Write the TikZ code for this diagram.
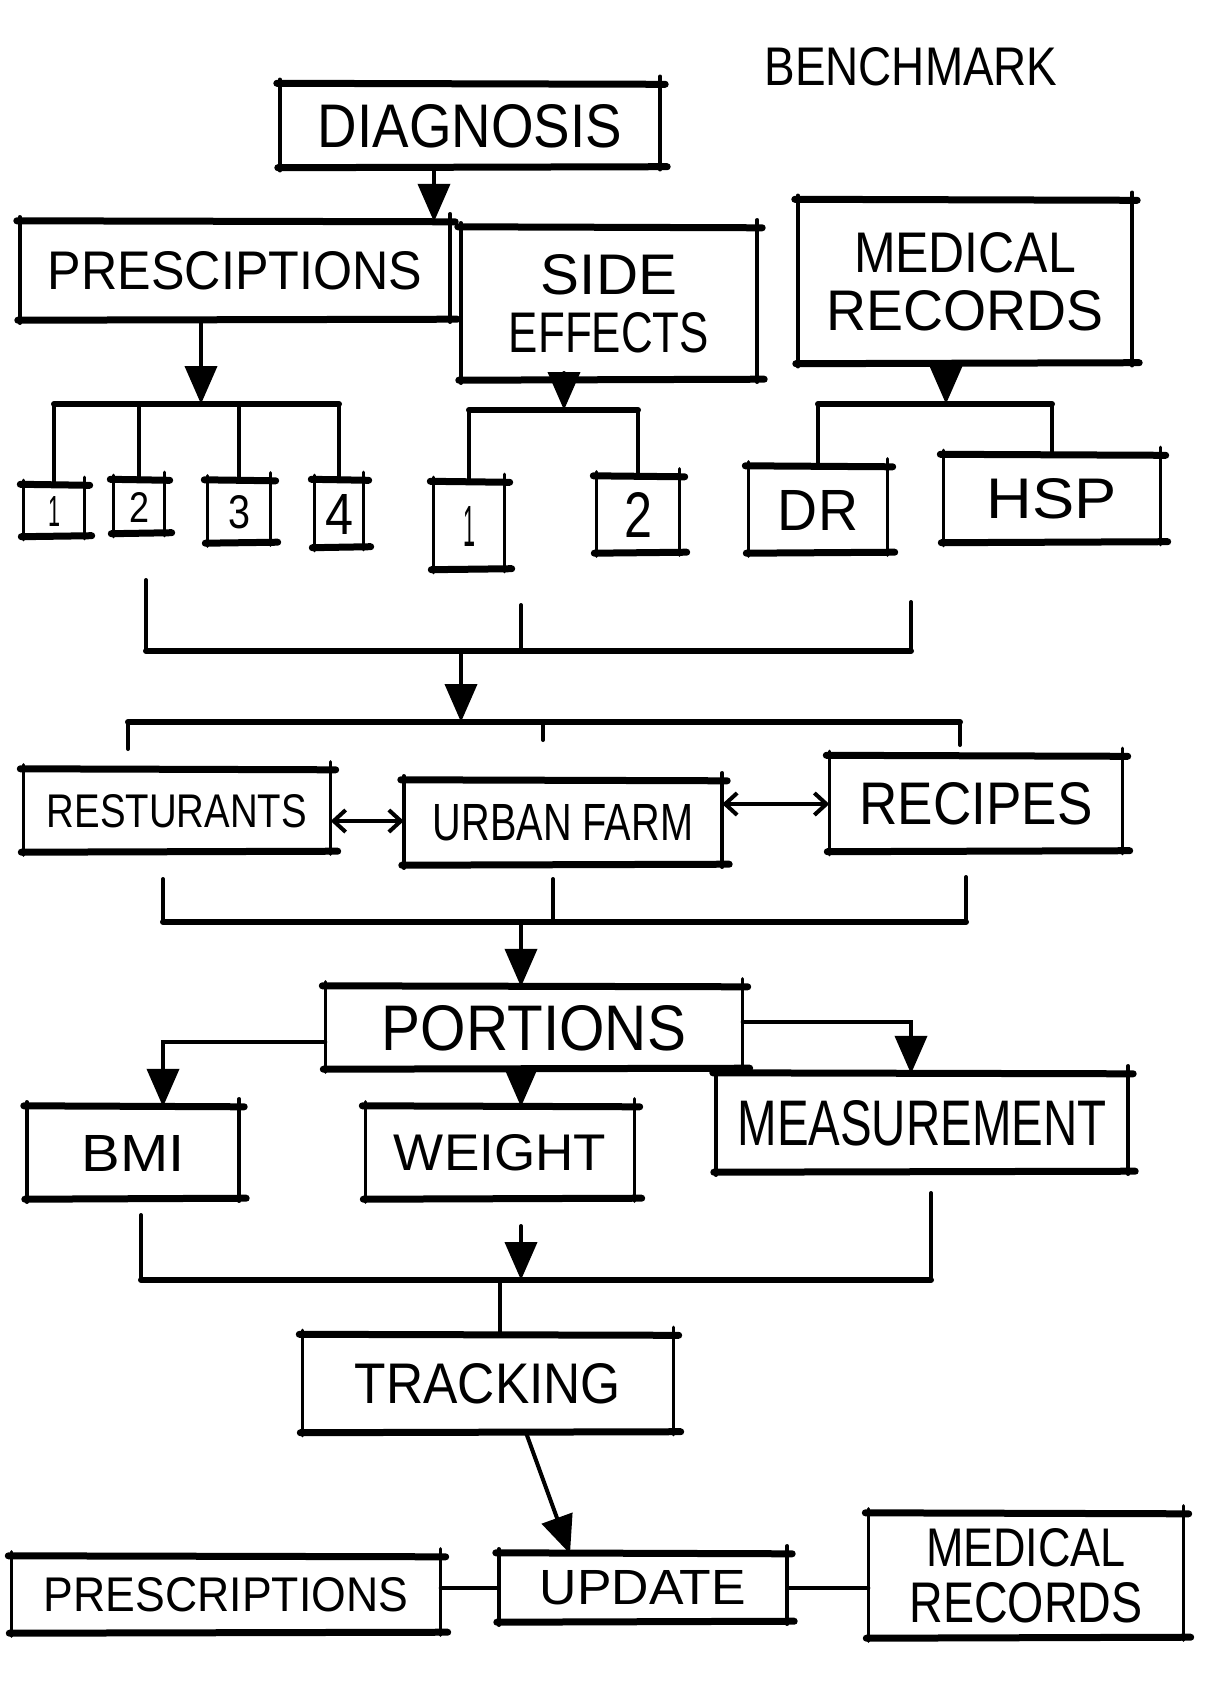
\documentclass[tikz,border=0pt]{standalone}
\usepackage{fontspec}
\setmainfont{Liberation Sans}
\usepackage{graphicx}
\usetikzlibrary{arrows.meta,calc}
\newcommand\lbl[3]{\resizebox{#1pt}{#2pt}{#3}}
\newcommand\skbox[1]{%
  \draw[line width=7pt,line cap=round] ([xshift=-3pt,yshift=1pt]#1.north west) -- ([xshift=5pt]#1.north east);
  \draw[line width=7pt,line cap=round] ([xshift=-2pt]#1.south west) -- ([xshift=7pt,yshift=1pt]#1.south east);
  \draw[line width=3.5pt,line cap=round] ([yshift=5pt]#1.north west) -- ([yshift=-3pt]#1.south west);
  \draw[line width=3.5pt,line cap=round] ([yshift=8pt]#1.north east) -- ([yshift=-2pt]#1.south east);
}
\begin{document}
\begin{tikzpicture}[x=1pt,y=-1pt,
  bx/.style={rectangle,inner sep=0pt,draw=none,align=center},
  con/.style={line width=4pt,line cap=round},
  brk/.style={line width=6pt,line cap=round},
  tip/.style={con,-{Triangle[width=32pt,length=38pt]}},
  dbl/.style={con,{Straight Barb[length=12pt,width=22pt,line width=4pt]}-{Straight Barb[length=12pt,width=22pt,line width=4pt]}},
]
\useasboundingbox (0,0) rectangle (1224,1702);
\fill[white] (0,0) rectangle (1224,1702);

% title
\node[bx] (bench) at (911,67) {\lbl{293}{38}{BENCHMARK}};

% level 1
\node[bx,minimum width=380pt,minimum height=83pt] (diag) at (470,126) {\lbl{304}{43}{DIAGNOSIS}};
\node[bx,minimum width=430pt,minimum height=98pt] (presc) at (235,271) {\lbl{374}{38}{PRESCIPTIONS}};
\node[bx,minimum width=296pt,minimum height=152pt] (side) at (609,304) {\lbl{136}{40}{SIDE}\\[16pt]\lbl{200}{40}{EFFECTS}};
\node[bx,minimum width=334pt,minimum height=163pt] (med) at (965,282) {\lbl{222}{40}{MEDICAL}\\[16pt]\lbl{277}{40}{RECORDS}};

% small boxes
\node[bx,minimum width=61pt,minimum height=51pt] (p1) at (54,511) {\lbl{12}{30}{1}};
\node[bx,minimum width=51pt,minimum height=53pt] (p2) at (139,507) {\lbl{20}{30}{2}};
\node[bx,minimum width=63pt,minimum height=62pt] (p3) at (239,512) {\lbl{22}{33}{3}};
\node[bx,minimum width=49pt,minimum height=67pt] (p4) at (339,514) {\lbl{28}{40}{4}};
\node[bx,minimum width=71pt,minimum height=87pt] (s1) at (469,526) {\lbl{12}{40}{1}};
\node[bx,minimum width=83pt,minimum height=76pt] (s2) at (638,515) {\lbl{28}{45}{2}};
\node[bx,minimum width=139pt,minimum height=86pt] (dr) at (818,510) {\lbl{80}{40}{DR}};
\node[bx,minimum width=217pt,minimum height=87pt] (hsp) at (1052,499) {\lbl{130}{40}{HSP}};

% row 2
\node[bx,minimum width=307pt,minimum height=82pt] (rest) at (177,811) {\lbl{260}{33}{RESTURANTS}};
\node[bx,minimum width=318pt,minimum height=84pt] (urban) at (563,823) {\lbl{260}{36}{URBAN FARM}};
\node[bx,minimum width=293pt,minimum height=95pt] (recip) at (976,804) {\lbl{233}{42}{RECIPES}};

% row 3
\node[bx,minimum width=417pt,minimum height=82pt] (port) at (534,1028) {\lbl{304}{45}{PORTIONS}};
\node[bx,minimum width=212pt,minimum height=92pt] (bmi) at (133,1153) {\lbl{103}{36}{BMI}};
\node[bx,minimum width=269pt,minimum height=92pt] (weight) at (500,1153) {\lbl{212}{36}{WEIGHT}};
\node[bx,minimum width=412pt,minimum height=98pt] (meas) at (922,1123) {\lbl{369}{45}{MEASUREMENT}};

% row 4
\node[bx,minimum width=371pt,minimum height=97pt] (track) at (488,1384) {\lbl{266}{40}{TRACKING}};

% row 5
\node[bx,minimum width=429pt,minimum height=76pt] (presc2) at (226,1595) {\lbl{364}{34}{PRESCRIPTIONS}};
\node[bx,minimum width=288pt,minimum height=68pt] (update) at (643,1588) {\lbl{206}{34}{UPDATE}};
\node[bx,minimum width=315pt,minimum height=124pt] (med2) at (1026,1576) {\lbl{200}{38}{MEDICAL}\\[14pt]\lbl{233}{40}{RECORDS}};

\foreach \n in {diag,presc,side,med,p1,p2,p3,p4,s1,s2,dr,hsp,rest,urban,recip,port,bmi,weight,meas,track,presc2,update,med2}{\skbox{\n}}

% diagnosis -> prescriptions
\draw[tip] ([xshift=-36pt]diag.south) -- ([xshift=199pt]presc.north);

% prescriptions bracket
\coordinate (pb) at (201,404);
\draw[tip] (pb |- presc.south) -- (pb);
\draw[brk] (p1.north |- pb) -- (p4.north |- pb);
\foreach \n in {p1,p2,p3,p4}{\draw[con] (\n.north |- pb) -- (\n.north);}

% side effects bracket
\coordinate (sb) at (564,410);
\draw[tip] (sb |- side.south) -- (sb);
\draw[brk] (s1.north |- sb) -- (s2.north |- sb);
\foreach \n in {s1,s2}{\draw[con] (\n.north |- sb) -- (\n.north);}

% medical records bracket
\coordinate (mb) at (946,404);
\draw[tip] (mb |- med.south) -- (mb);
\draw[brk] (dr.north |- mb) -- (hsp.north |- mb);
\foreach \n in {dr,hsp}{\draw[con] (\n.north |- mb) -- (\n.north);}

% merge bracket 1
\coordinate (m1a) at (146,580);
\coordinate (m1b) at (521,605);
\coordinate (m1c) at (911,602);
\coordinate (m1) at (461,651);
\draw[brk] (m1a |- m1) -- (m1c |- m1);
\foreach \c in {m1a,m1b,m1c}{\draw[con] (\c) -- (\c |- m1);}
\coordinate (d1) at (461,722);
\draw[tip] (m1) -- (d1);

% distribution bracket
\coordinate (dl) at (128,722);
\coordinate (dm) at (543,722);
\coordinate (dr2) at (960,722);
\coordinate (dlx) at (128,749);
\coordinate (dmx) at (543,740);
\coordinate (drx) at (960,745);
\draw[brk] (dl) -- (dr2);
\draw[con] (dl) -- (dlx);
\draw[con] (dm) -- (dmx);
\draw[con] (dr2) -- (drx);

% double arrows
\draw[dbl] ([yshift=-10pt]rest.east) -- ([yshift=-10pt]rest.east -| urban.west);
\draw[dbl] (recip.west -| urban.east) -- (recip.west);

% merge bracket 2
\coordinate (m2a) at (163,879);
\coordinate (m2b) at (553,879);
\coordinate (m2c) at (966,877);
\coordinate (m2) at (521,922);
\draw[brk] (m2a |- m2) -- (m2c |- m2);
\foreach \c in {m2a,m2b,m2c}{\draw[con] (\c) -- (\c |- m2);}
\draw[tip] (m2) -- (m2 |- port.north);

% portions -> children
\draw[tip] ([yshift=-14pt]port.west) -| ([xshift=30pt]bmi.north);
\draw[tip] ([xshift=-13pt]port.south) -- ([xshift=21pt]weight.north);
\draw[tip] ([yshift=6pt]port.east) -| ([xshift=-11pt]meas.north);

% merge bracket 3
\coordinate (m3a) at (141,1215);
\coordinate (m3c) at (931,1193);
\coordinate (m3) at (521,1280);
\coordinate (m3t) at (521,1226);
\coordinate (m3j) at (500,1280);
\draw[brk] (m3a |- m3) -- (m3c |- m3);
\foreach \c in {m3a,m3c}{\draw[con] (\c) -- (\c |- m3);}
\draw[tip] (m3t) -- (m3);
\draw[con] (m3j) -- (m3j |- track.north);

% tracking -> update
\draw[tip] ([xshift=38pt]track.south) -- ([xshift=-73pt]update.north);

% bottom links
\draw[con] (update.west -| presc2.east) -- (update.west);
\draw[con] (update.east) -- (update.east -| med2.west);
\end{tikzpicture}
\end{document}
